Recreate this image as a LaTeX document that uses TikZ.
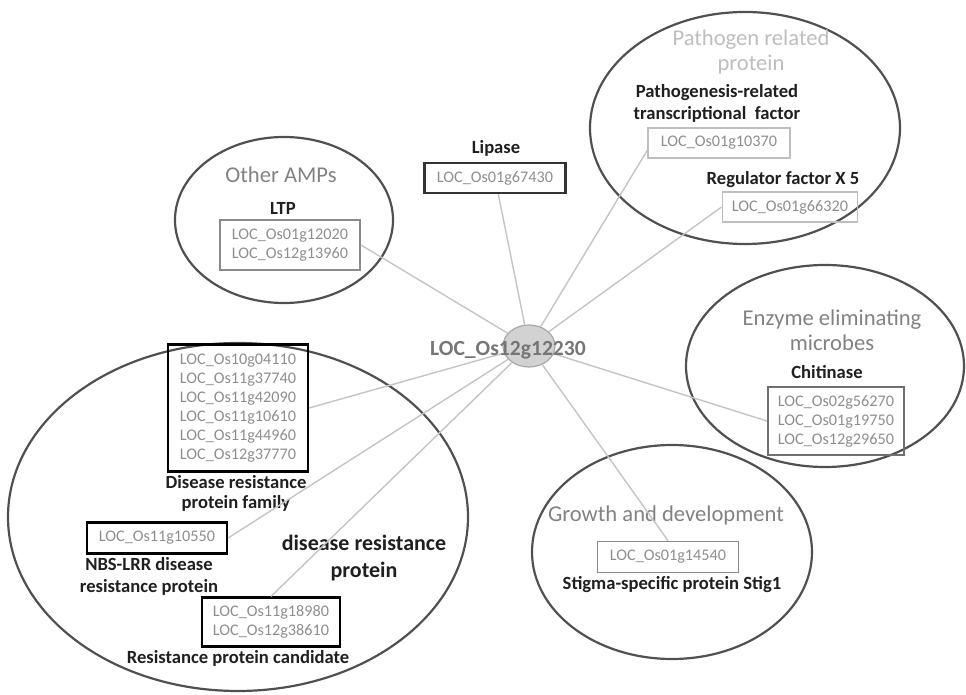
\documentclass[tikz,border=0pt]{standalone}
\usepackage{fontspec}
\setmainfont{Carlito}
\usetikzlibrary{shapes.geometric}

\definecolor{ringgray}{HTML}{505050}
\definecolor{linkgray}{HTML}{C4C4C4}
\definecolor{locgray}{HTML}{8E8E8E}
\definecolor{headgray}{HTML}{828282}
\definecolor{palegray}{HTML}{BEBEBE}
\definecolor{boxgray}{HTML}{8A8A8A}
\definecolor{chitgray}{HTML}{707070}
\definecolor{hubfill}{HTML}{D2D2D2}
\definecolor{hubline}{HTML}{A8A8A8}
\definecolor{hubtext}{HTML}{767676}

\begin{document}
\begin{tikzpicture}[x=0.5pt, y=-0.5pt,
    group/.style ={draw=ringgray, line width=1.1pt},
    link/.style ={draw=linkgray, line width=0.7pt},
    hub/.style ={ellipse, fill=hubfill, draw=hubline, line width=0.6pt, inner sep=0pt, minimum width=26pt, minimum height=21pt},
    locbox/.style ={rectangle, draw, line width=0.9pt, align=center, text=locgray, inner sep=0pt, font=\fontsize{8.1}{9.5}\selectfont},
    kind/.style ={align=center, text=black!88, font=\bfseries\fontsize{9.3}{11}\selectfont},
    head/.style ={align=center, text=headgray, font=\fontsize{11.3}{12.5}\selectfont}]
   \useasboundingbox (0,0) rectangle (966,695);

   % groups
   \draw[group] (284,220) ellipse (109 and 83);
   \draw[group] (745,128) ellipse (155 and 116);
   \draw[group] (825,366) ellipse (139 and 101);
   \draw[group] (672,552) ellipse (140 and 107);
   \draw[group] (238,517) ellipse (230 and 174);

   \node[hub] (hub) at (529,346) {};

   % other AMPs
   \node[head] (amps) at (281,175) {Other AMPs};
   \node[kind] (ltp) at (283,208) {LTP};
   \node[locbox, draw=boxgray, minimum width=70pt, minimum height=25pt] (ltpbox) at (290,245) {LOC\_Os01g12020\\LOC\_Os12g13960};

   % lipase
   \node[kind] (lipase) at (496,148) {Lipase};
   \node[locbox, draw=black!80, line width=1.1pt, minimum width=70.5pt, minimum height=15pt] (lipasebox) at (495,178) {LOC\_Os01g67430};

   % pathogen related
   \node[head, text=palegray] (prp) at (751,52) {Pathogen related\\protein};
   \node[kind] (prtf) at (717,103) {Pathogenesis-related\\transcriptional\ \ factor};
   \node[locbox, draw=palegray, minimum width=71pt, minimum height=15pt] (prtfbox) at (719,143) {LOC\_Os01g10370};
   \node[kind] (rfx) at (783,180) {Regulator factor X 5};
   \node[locbox, draw=palegray, minimum width=67.5pt, minimum height=15pt] (rfxbox) at (790,207) {LOC\_Os01g66320};

   % enzymes
   \node[head] (enz) at (832,330) {Enzyme eliminating\\microbes};
   \node[kind] (chit) at (827,372) {Chitinase};
   \node[locbox, draw=chitgray, line width=1.1pt, minimum width=68pt, minimum height=34pt] (chitbox) at (836,421) {LOC\_Os02g56270\\LOC\_Os01g19750\\LOC\_Os12g29650};

   % growth
   \node[head] (grow) at (666,515) {Growth and development};
   \node[locbox, draw=boxgray, minimum width=70.5pt, minimum height=15.5pt] (stigbox) at (668,557) {LOC\_Os01g14540};
   \node[kind] (stig) at (672,585) {Stigma-specific protein Stig1};

   % disease resistance
   \node[locbox, draw=black, line width=1.1pt, minimum width=70pt, minimum height=63.5pt] (drfbox) at (238,408) {LOC\_Os10g04110\\LOC\_Os11g37740\\LOC\_Os11g42090\\LOC\_Os11g10610\\LOC\_Os11g44960\\LOC\_Os12g37770};
   \node[kind, font=\bfseries\fontsize{9.3}{10}\selectfont] (drf) at (236,493) {Disease resistance\\protein family};
   \node[locbox, draw=black, line width=1.1pt, minimum width=70pt, minimum height=15.5pt] (nbsbox) at (157,538) {LOC\_Os11g10550};
   \node[kind] (nbs) at (149,576) {NBS-LRR disease\\resistance protein};
   \node[locbox, draw=black, line width=1.1pt, minimum width=69pt, minimum height=24.5pt] (candbox) at (271,622) {LOC\_Os11g18980\\LOC\_Os12g38610};
   \node[kind] (cand) at (238,658) {Resistance protein candidate};
   \node[kind, font=\bfseries\fontsize{11}{13.5}\selectfont] (dis) at (364,558) {disease resistance\\protein};

   % links
   \draw[link] (hub) to (ltpbox.east);
   \draw[link] (hub) to (lipasebox);
   \draw[link] (hub) to (prtfbox.186);
   \draw[link] (hub) to (rfxbox.west);
   \draw[link] (hub) to (chitbox.west);
   \draw[link] (hub) to (stigbox.north);
   \draw[link] (hub) to (drfbox.east);
   \draw[link] (hub) to (nbsbox.east);
   \draw[link] (hub) to (candbox.north);

   \node[text=hubtext, font=\bfseries\fontsize{10.8}{13}\selectfont] (hubname) at (508,350) {LOC\_Os12g12230};
\end{tikzpicture}
\end{document}
